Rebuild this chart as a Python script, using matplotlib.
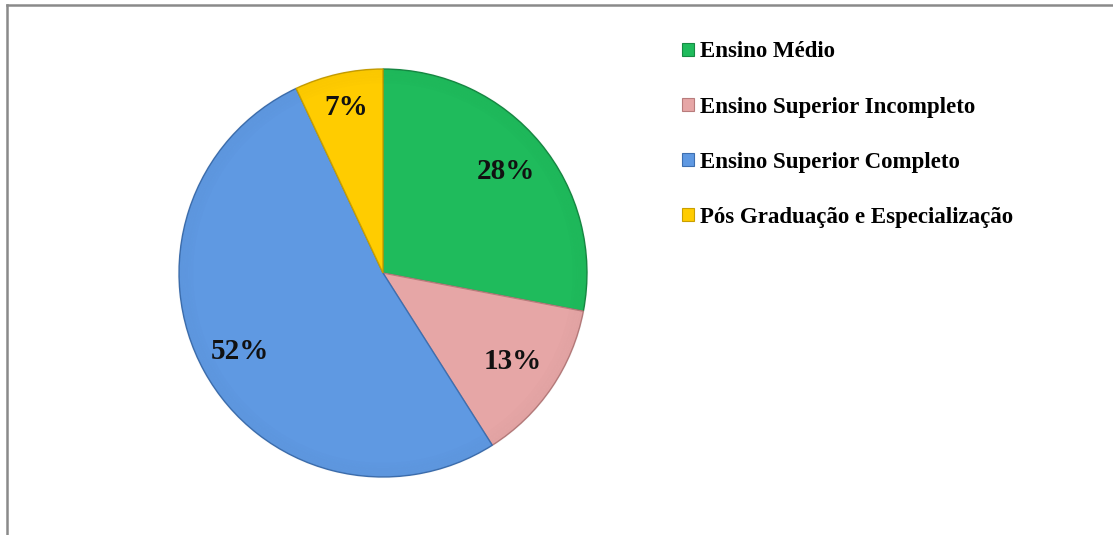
import matplotlib
matplotlib.use("Agg")
import matplotlib.pyplot as plt
from matplotlib.lines import Line2D
import numpy as np

categories = ["Ensino Médio", "Ensino Superior Incompleto",
              "Ensino Superior Completo", "Pós Graduação e Especialização"]
shares = [28, 13, 52, 7]
colors = ["#1fbb5c", "#e6a6a6", "#5f99e2", "#ffcc00"]
edges = ["#168a43", "#b87c7c", "#3d6fb0", "#c99f00"]
label_dist = [0.78, 0.77, 0.80, 0.83]

W, H = 1113, 535
fig = plt.figure(figsize=(W / 100, H / 100), dpi=100)
fig.patch.set_facecolor("white")

# pie axes: centre (383, 273) px, radius 206 px
cx, cy, R = 383, 273, 206
ax = fig.add_axes([(cx - R) / W, (H - cy - R) / H, 2 * R / W, 2 * R / H])
wedges, _ = ax.pie(shares, colors=colors, startangle=90, counterclock=False,
                   radius=1, wedgeprops=dict(linewidth=1.0))
for w, ec in zip(wedges, edges):
    w.set_edgecolor(ec)

# soft darkening towards the outer edge for a bevelled look
for r in np.linspace(0.93, 0.995, 6):
    ax.pie([1], colors=["black"], radius=r + 0.012, startangle=90,
           wedgeprops=dict(width=0.012, linewidth=0, alpha=0.025 * (r - 0.9) / 0.1))

# percentage labels at the middle angle of each slice
total = sum(shares)
start = 90.0
for v, d in zip(shares, label_dist):
    mid = np.deg2rad(start - 360.0 * v / total / 2)
    start -= 360.0 * v / total
    ax.text(d * np.cos(mid), d * np.sin(mid), f"{v / total * 100:.0f}%",
            ha="center", va="center", family="Liberation Serif",
            weight="bold", fontsize=21, color="#111111")

ax.set_xlim(-1.01, 1.01)
ax.set_ylim(-1.01, 1.01)
ax.set_aspect("equal")
ax.axis("off")

# legend on the right
handles = [plt.Rectangle((0, 0), 1, 1, facecolor=c, edgecolor=e, linewidth=0.8)
           for c, e in zip(colors, edges)]
fig.legend(handles, categories, loc="upper left",
           bbox_to_anchor=(671 / W, 1 - 30 / H),
           frameon=False, handlelength=0.5, handleheight=0.5,
           handletextpad=0.25, labelspacing=1.49, borderpad=0,
           prop=dict(family="Liberation Serif", weight="bold", size=16.5))

# frame lines along the left and top edges
fig.add_artist(Line2D([7 / W, 7 / W], [0, 1 - 5 / H], color="#8a8a8a",
                      linewidth=1.8, transform=fig.transFigure))
fig.add_artist(Line2D([7 / W, 1], [1 - 5 / H, 1 - 5 / H], color="#8a8a8a",
                      linewidth=1.8, transform=fig.transFigure))

fig.savefig("out.png", dpi=100, facecolor="white")
